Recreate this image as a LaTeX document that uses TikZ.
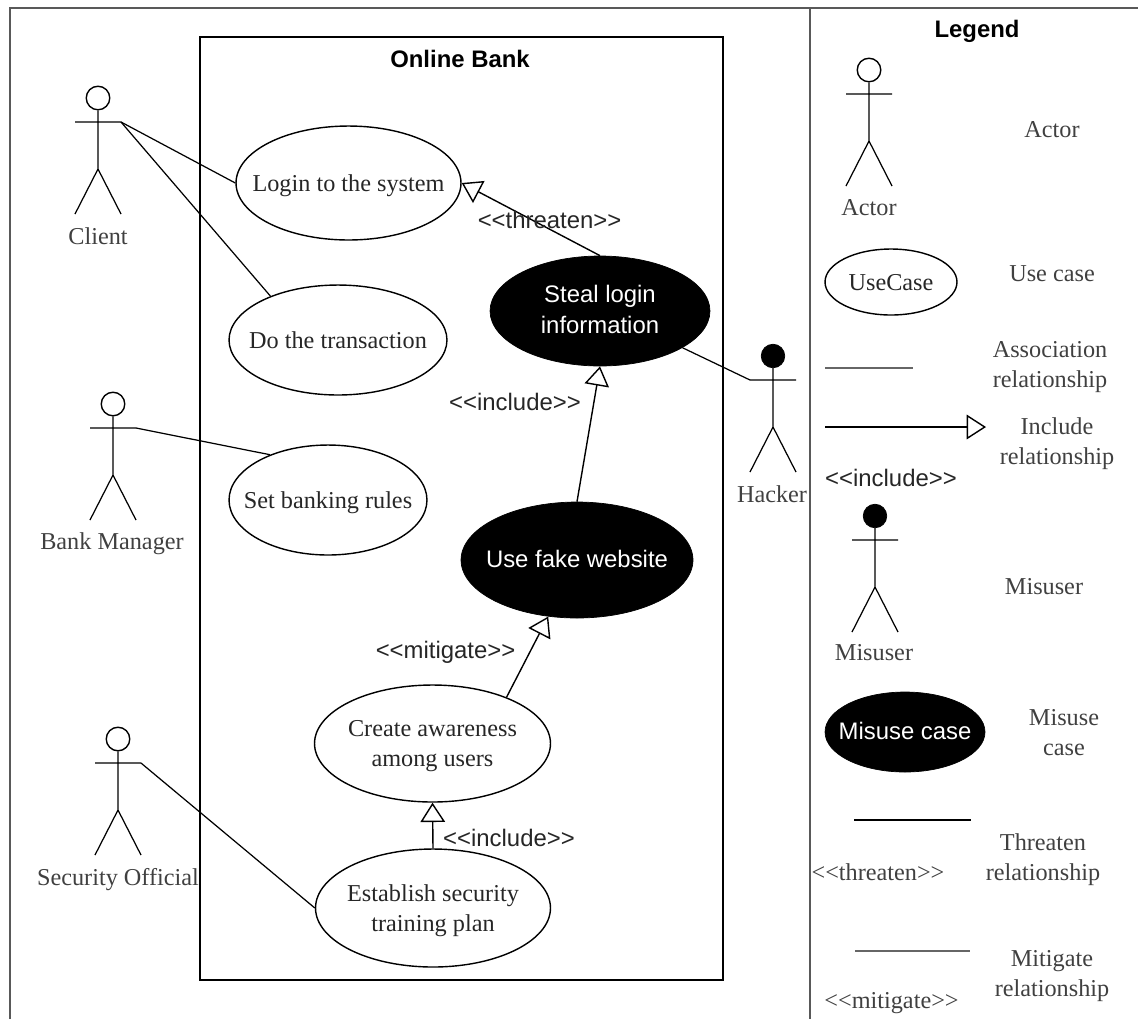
\documentclass[tikz,border=0pt]{standalone}
\usepackage{fontspec}
\setmainfont[Ligatures=TeXOff]{Liberation Serif}
\setsansfont[Ligatures=TeXOff]{Liberation Sans}
\usetikzlibrary{arrows.meta,shapes.geometric}

\tikzset{utext/.style = {inner sep=0pt,
                                    align=center,
                                    yshift=-1.5pt,
                                    text = black!85,
                                    font=\fontsize{13.8}{17}\selectfont},
         mtext/.style = {inner sep=0pt,
                                    align=center,
                                    yshift=0.7pt,
                                    text = white,
                                    font=\fontsize{13.6}{17.5}\selectfont\sffamily},
         ucase/.style = {shape = ellipse,
                                    color = black,
                                    line width = 0.8pt,
                                    inner sep=0pt,
                                    label={[utext]center:#1},
                                    draw},
         mcase/.style = {shape = ellipse,
                                    fill = black,
                                    inner sep=0pt,
                                    label={[mtext]center:#1},
                                    draw},
         lbl/.style = {inner sep=0pt,
                                    align=center,
                                    text = black!75,
                                    font=\fontsize{13.8}{17}\selectfont},
         stereo/.style = {inner sep=0pt,
                                    text = black!85,
                                    font=\fontsize{13.6}{16}\selectfont\sffamily},
         title/.style = {font=\fontsize{13.6}{16}\selectfont\sffamily\bfseries},
         assoc/.style = {line width = 0.7pt},
         incl/.style = {line width = 0.8pt, -{Triangle[open,length=11pt,width=14pt]}},
         headw/.style = {shape = circle, draw, line width = 0.8pt, inner sep=0pt, minimum size = 13.4pt},
         headb/.style = {shape = circle, draw, fill = black, inner sep=0pt, minimum size = 13.4pt}}

% #1 name, #2 x and #3 y of the head, #4 head style
\newcommand{\stickman}[4]{
		\node[#4] (#1head) at (#2,#3) {};
		\coordinate (#1lhand) at (#2-23,#3+24);
		\coordinate (#1hand) at (#2+23,#3+24);
		\coordinate (#1hip) at (#2,#3+71);
		\coordinate (#1lfoot) at (#2-23,#3+116);
		\coordinate (#1rfoot) at (#2+23,#3+116);
		\draw[assoc] (#1head) -- (#1hip) -- (#1lfoot) (#1hip) -- (#1rfoot) (#1lhand) -- (#1hand);
}

\begin{document}
\begin{tikzpicture}[x=0.02cm,y=-0.02cm]
		\useasboundingbox (0,0) rectangle (1138,1019);
		% frames
		\coordinate (fbl) at (10,1019);
		\coordinate (ftl) at (10,8);
		\coordinate (ftr) at (1138,8);
		\coordinate (ltop) at (810,8);
		\coordinate (lbot) at (810,1019);
		\draw[line width=1.2pt,black!65] (fbl) -- (ftl) -- (ftr);
		\draw[line width=1.2pt,black!65] (ltop) -- (lbot);
		\node[draw,line width=0.8pt,minimum width=10.46cm,minimum height=18.86cm,inner sep=0pt] (bank) at (461.5,508.5) {};
		\node[title] (banktitle) at (460,59) {Online Bank};
		\node[title] (legendtitle) at (977,31) {Legend};

		% actors
		\stickman{client}{98}{98}{headw}
		\stickman{manager}{113}{404}{headw}
		\stickman{official}{118}{739}{headw}
		\stickman{hacker}{773}{356}{headb}
		\node[lbl] (clientl) at (98,236) {Client};
		\node[lbl] (managerl) at (112,544) {Bank Manager};
		\node[lbl] (officiall) at (118,880) {Security Official};
		\node[lbl] (hackerl) at (772,494) {Hacker};

		% use cases
		\node[ucase={Login to the system},minimum width=4.5cm,minimum height=2.28cm] (login) at (348.5,183) {};
		\node[ucase={\vphantom{g}Do the transaction},minimum width=4.36cm,minimum height=2.2cm] (trans) at (338,340) {};
		\node[ucase={Set banking rules},minimum width=3.96cm,minimum height=2.2cm] (rules) at (328,500) {};
		\node[mcase={Steal login\\information},minimum width=4.4cm,minimum height=2.2cm] (steal) at (600,311) {};
		\node[mcase={Use fake website},minimum width=4.64cm,minimum height=2.32cm] (fake) at (577,560) {};
		\node[ucase={Create awareness\\among users},minimum width=4.72cm,minimum height=2.34cm] (aware) at (432.5,743.5) {};
		\node[ucase={Establish security\\training plan},minimum width=4.7cm,minimum height=2.36cm] (plan) at (433,908) {};

		% relations
		\draw[assoc] (clienthand) -- (login.west);
		\draw[assoc] (clienthand) -- (trans.147);
		\draw[assoc] (managerhand) -- (rules.142);
		\draw[assoc] (officialhand) -- (plan.west);
		\draw[assoc] (hackerlhand) -- (steal.336);
		\draw[incl] (steal.north) -- (login.east);
		\draw[incl] (fake.north) -- (steal.south);
		\draw[incl] (aware.32) -- (fake.243);
		\draw[incl] (plan.north) -- (aware.south);
		\node[stereo] (threatenl) at (549.5,220) {<<threaten>>};
		\node[stereo] (includeup) at (515,402) {<<include>>};
		\node[stereo] (mitigatel) at (445.5,652) {<<mitigate>>};
		\node[stereo] (includelow) at (509,838) {<<include>>};

		% legend
		\stickman{lactor}{869}{70}{headw}
		\node[lbl] (lactorl) at (869,208) {Actor};
		\node[lbl] (lactort) at (1052,130) {Actor};
		\node[ucase={\vphantom{g}UseCase},minimum width=2.64cm,minimum height=1.32cm] (luse) at (891,282) {};
		\node[lbl] (luset) at (1052,274) {Use case};
		\coordinate (lassa) at (825,368);
		\coordinate (lassb) at (913,368);
		\draw[line width=1pt,black!60] (lassa) -- (lassb);
		\node[lbl] (lasst) at (1050,367) {Association\\relationship};
		\coordinate (linca) at (825,427);
		\coordinate (lincb) at (986,427);
		\draw[incl] (linca) -- (lincb);
		\node[lbl] (linct) at (1057,443.5) {Include\\relationship};
		\node[stereo] (linclbl) at (891,478) {<<include>>};
		\stickman{lmis}{875}{516}{headb}
		\node[lbl] (lmisl) at (874,653) {Misuser};
		\node[lbl] (lmist) at (1044,587) {Misuser};
		\node[mcase={Misuse case},minimum width=3.2cm,minimum height=1.6cm] (lcase) at (905,732) {};
		\node[lbl] (lcaset) at (1064,733) {Misuse\\case};
		\coordinate (ltha) at (854,820);
		\coordinate (lthb) at (971,820);
		\draw[line width=1pt] (ltha) -- (lthb);
		\node[lbl] (ltht) at (1043,859.5) {Threaten\\relationship};
		\node[lbl] (lthlbl) at (878,872) {<<threaten>>};
		\coordinate (lmia) at (855,951);
		\coordinate (lmib) at (970,951);
		\draw[line width=1pt,black!60] (lmia) -- (lmib);
		\node[lbl] (lmit) at (1052,976) {Mitigate\\relationship};
		\node[lbl] (lmilbl) at (891.5,1003) {<<mitigate>>};
	\end{tikzpicture}
\end{document}
